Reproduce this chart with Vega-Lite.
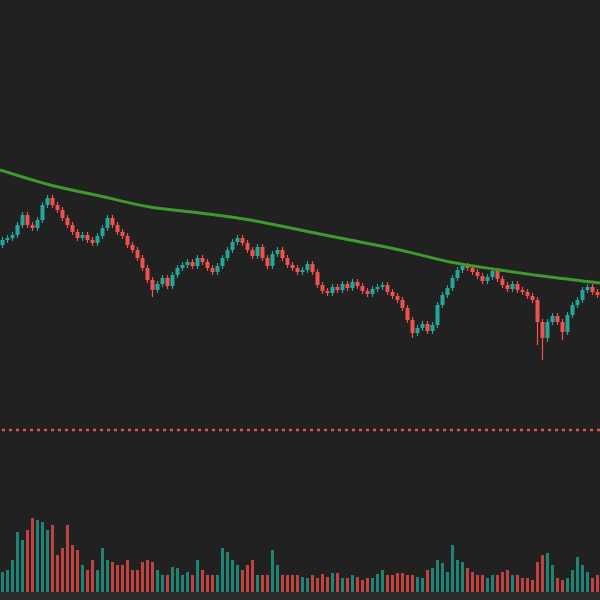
{
  "$schema": "https://vega.github.io/schema/vega-lite/v6.json",
  "width": 600,
  "height": 600,
  "autosize": {"type": "none"},
  "padding": 0,
  "background": "#212121",
  "config": {"view": {"stroke": null}, "axis": {"disable": true}},
  "datasets": {
    "candles": [
      {"t":0,"o":355,"c":360,"h":363,"l":352,"v":20},
      {"t":1,"o":360,"c":362,"h":365,"l":357,"v":22},
      {"t":2,"o":362,"c":365,"h":368,"l":359,"v":32},
      {"t":3,"o":365,"c":375,"h":378,"l":362,"v":60},
      {"t":4,"o":375,"c":385,"h":388,"l":372,"v":52},
      {"t":5,"o":385,"c":375,"h":388,"l":372,"v":62},
      {"t":6,"o":375,"c":372,"h":378,"l":369,"v":74},
      {"t":7,"o":372,"c":380,"h":383,"l":369,"v":72},
      {"t":8,"o":380,"c":395,"h":398,"l":377,"v":70},
      {"t":9,"o":395,"c":402,"h":405,"l":392,"v":62},
      {"t":10,"o":402,"c":395,"h":405,"l":392,"v":67},
      {"t":11,"o":395,"c":390,"h":398,"l":387,"v":37},
      {"t":12,"o":390,"c":382,"h":393,"l":379,"v":44},
      {"t":13,"o":382,"c":375,"h":385,"l":372,"v":67},
      {"t":14,"o":375,"c":368,"h":378,"l":365,"v":47},
      {"t":15,"o":368,"c":362,"h":371,"l":359,"v":42},
      {"t":16,"o":362,"c":365,"h":368,"l":359,"v":27},
      {"t":17,"o":365,"c":360,"h":368,"l":357,"v":22},
      {"t":18,"o":360,"c":357,"h":363,"l":354,"v":32},
      {"t":19,"o":357,"c":364,"h":367,"l":354,"v":22},
      {"t":20,"o":364,"c":372,"h":375,"l":361,"v":44},
      {"t":21,"o":372,"c":382,"h":385,"l":369,"v":32},
      {"t":22,"o":382,"c":375,"h":385,"l":372,"v":30},
      {"t":23,"o":375,"c":368,"h":378,"l":365,"v":27},
      {"t":24,"o":368,"c":364,"h":371,"l":361,"v":27},
      {"t":25,"o":364,"c":355,"h":367,"l":352,"v":32},
      {"t":26,"o":355,"c":350,"h":358,"l":347,"v":22},
      {"t":27,"o":350,"c":342,"h":353,"l":339,"v":22},
      {"t":28,"o":342,"c":332,"h":345,"l":329,"v":30},
      {"t":29,"o":332,"c":320,"h":335,"l":317,"v":32},
      {"t":30,"o":320,"c":310,"h":323,"l":303,"v":30},
      {"t":31,"o":310,"c":316,"h":319,"l":307,"v":22},
      {"t":32,"o":316,"c":322,"h":325,"l":313,"v":17},
      {"t":33,"o":322,"c":314,"h":325,"l":311,"v":17},
      {"t":34,"o":314,"c":325,"h":328,"l":311,"v":25},
      {"t":35,"o":325,"c":332,"h":335,"l":322,"v":24},
      {"t":36,"o":332,"c":335,"h":338,"l":329,"v":17},
      {"t":37,"o":335,"c":338,"h":341,"l":332,"v":20},
      {"t":38,"o":338,"c":334,"h":341,"l":331,"v":17},
      {"t":39,"o":334,"c":342,"h":345,"l":331,"v":32},
      {"t":40,"o":342,"c":338,"h":345,"l":335,"v":22},
      {"t":41,"o":338,"c":332,"h":341,"l":329,"v":17},
      {"t":42,"o":332,"c":328,"h":335,"l":325,"v":17},
      {"t":43,"o":328,"c":334,"h":337,"l":325,"v":17},
      {"t":44,"o":334,"c":342,"h":345,"l":331,"v":44},
      {"t":45,"o":342,"c":350,"h":353,"l":339,"v":40},
      {"t":46,"o":350,"c":358,"h":361,"l":347,"v":32},
      {"t":47,"o":358,"c":362,"h":365,"l":355,"v":27},
      {"t":48,"o":362,"c":357,"h":365,"l":354,"v":22},
      {"t":49,"o":357,"c":350,"h":360,"l":347,"v":27},
      {"t":50,"o":350,"c":344,"h":353,"l":341,"v":32},
      {"t":51,"o":344,"c":353,"h":356,"l":341,"v":17},
      {"t":52,"o":353,"c":342,"h":356,"l":339,"v":17},
      {"t":53,"o":342,"c":334,"h":345,"l":331,"v":17},
      {"t":54,"o":334,"c":346,"h":349,"l":331,"v":42},
      {"t":55,"o":346,"c":350,"h":353,"l":343,"v":27},
      {"t":56,"o":350,"c":342,"h":353,"l":339,"v":17},
      {"t":57,"o":342,"c":335,"h":345,"l":332,"v":17},
      {"t":58,"o":335,"c":332,"h":338,"l":329,"v":17},
      {"t":59,"o":332,"c":328,"h":335,"l":325,"v":17},
      {"t":60,"o":328,"c":330,"h":333,"l":325,"v":15},
      {"t":61,"o":330,"c":336,"h":339,"l":327,"v":14},
      {"t":62,"o":336,"c":328,"h":339,"l":325,"v":17},
      {"t":63,"o":328,"c":315,"h":331,"l":312,"v":14},
      {"t":64,"o":315,"c":309,"h":318,"l":306,"v":18},
      {"t":65,"o":309,"c":307,"h":312,"l":304,"v":15},
      {"t":66,"o":307,"c":313,"h":316,"l":304,"v":19},
      {"t":67,"o":313,"c":310,"h":316,"l":307,"v":19},
      {"t":68,"o":310,"c":316,"h":319,"l":307,"v":14},
      {"t":69,"o":316,"c":312,"h":319,"l":309,"v":14},
      {"t":70,"o":312,"c":318,"h":321,"l":309,"v":17},
      {"t":71,"o":318,"c":314,"h":321,"l":311,"v":15},
      {"t":72,"o":314,"c":309,"h":317,"l":306,"v":12},
      {"t":73,"o":309,"c":306,"h":312,"l":303,"v":14},
      {"t":74,"o":306,"c":311,"h":314,"l":303,"v":14},
      {"t":75,"o":311,"c":313,"h":316,"l":308,"v":18},
      {"t":76,"o":313,"c":315,"h":318,"l":310,"v":22},
      {"t":77,"o":315,"c":308,"h":318,"l":305,"v":17},
      {"t":78,"o":308,"c":304,"h":311,"l":301,"v":17},
      {"t":79,"o":304,"c":300,"h":307,"l":297,"v":19},
      {"t":80,"o":300,"c":292,"h":303,"l":289,"v":19},
      {"t":81,"o":292,"c":280,"h":295,"l":277,"v":17},
      {"t":82,"o":280,"c":267,"h":283,"l":262,"v":17},
      {"t":83,"o":267,"c":272,"h":275,"l":264,"v":15},
      {"t":84,"o":272,"c":276,"h":279,"l":269,"v":14},
      {"t":85,"o":276,"c":269,"h":279,"l":266,"v":22},
      {"t":86,"o":269,"c":275,"h":278,"l":266,"v":24},
      {"t":87,"o":275,"c":295,"h":298,"l":272,"v":32},
      {"t":88,"o":295,"c":305,"h":308,"l":292,"v":29},
      {"t":89,"o":305,"c":312,"h":315,"l":302,"v":20},
      {"t":90,"o":312,"c":322,"h":325,"l":309,"v":47},
      {"t":91,"o":322,"c":330,"h":333,"l":319,"v":32},
      {"t":92,"o":330,"c":334,"h":337,"l":327,"v":30},
      {"t":93,"o":334,"c":332,"h":337,"l":329,"v":24},
      {"t":94,"o":332,"c":328,"h":335,"l":325,"v":20},
      {"t":95,"o":328,"c":324,"h":331,"l":321,"v":17},
      {"t":96,"o":324,"c":319,"h":327,"l":316,"v":17},
      {"t":97,"o":319,"c":323,"h":326,"l":316,"v":14},
      {"t":98,"o":323,"c":329,"h":332,"l":320,"v":17},
      {"t":99,"o":329,"c":321,"h":332,"l":318,"v":17},
      {"t":100,"o":321,"c":315,"h":324,"l":312,"v":20},
      {"t":101,"o":315,"c":311,"h":318,"l":308,"v":22},
      {"t":102,"o":311,"c":316,"h":319,"l":308,"v":17},
      {"t":103,"o":316,"c":310,"h":319,"l":307,"v":17},
      {"t":104,"o":310,"c":308,"h":313,"l":305,"v":14},
      {"t":105,"o":308,"c":304,"h":311,"l":301,"v":14},
      {"t":106,"o":304,"c":300,"h":307,"l":297,"v":12},
      {"t":107,"o":300,"c":278,"h":303,"l":255,"v":30},
      {"t":108,"o":278,"c":262,"h":281,"l":240,"v":37},
      {"t":109,"o":262,"c":278,"h":281,"l":258,"v":39},
      {"t":110,"o":278,"c":284,"h":287,"l":275,"v":27},
      {"t":111,"o":284,"c":278,"h":287,"l":275,"v":14},
      {"t":112,"o":278,"c":268,"h":281,"l":260,"v":12},
      {"t":113,"o":268,"c":285,"h":288,"l":265,"v":14},
      {"t":114,"o":285,"c":295,"h":298,"l":282,"v":22},
      {"t":115,"o":295,"c":300,"h":303,"l":292,"v":35},
      {"t":116,"o":300,"c":310,"h":313,"l":297,"v":27},
      {"t":117,"o":310,"c":313,"h":316,"l":307,"v":20},
      {"t":118,"o":313,"c":308,"h":316,"l":305,"v":14},
      {"t":119,"o":308,"c":305,"h":311,"l":302,"v":17}
    ],
    "ma": [
      {"t":-0.5,"ma":430},
      {"t":9.5,"ma":415},
      {"t":19.5,"ma":404},
      {"t":29.5,"ma":393},
      {"t":39.5,"ma":387},
      {"t":49.5,"ma":380},
      {"t":59.5,"ma":370},
      {"t":69.5,"ma":360},
      {"t":79.5,"ma":350},
      {"t":89.5,"ma":338},
      {"t":99.5,"ma":330},
      {"t":109.5,"ma":323},
      {"t":119.5,"ma":317}
    ],
    "level": [{"p":170}]
  },
  "resolve": {"scale": {"y": "independent"}},
  "layer": [
    {
      "data": {"name": "candles"},
      "mark": {"type": "bar", "size": 3, "opacity": 0.8},
      "encoding": {
        "x": {"field": "t", "type": "quantitative", "scale": {"domain": [-0.5, 119.5], "nice": false, "zero": false, "padding": 0}},
        "y": {"field": "v", "type": "quantitative", "scale": {"domain": [-8, 592], "nice": false}},
        "y2": {"datum": 0},
        "color": {"condition": {"test": "datum.c >= datum.o", "value": "#1f9c8c"}, "value": "#e84c4a"}
      }
    },
    {
      "data": {"values": [{"a": 0}]},
      "mark": {"type": "rect", "color": "#2c2c2c"},
      "encoding": {
        "x": {"datum": -0.5, "type": "quantitative", "scale": {"domain": [-0.5, 119.5], "nice": false, "zero": false, "padding": 0}},
        "x2": {"datum": 119.5},
        "y": {"datum": -8, "type": "quantitative", "scale": {"domain": [-8, 592], "nice": false}},
        "y2": {"datum": 0}
      }
    },
    {
      "data": {"name": "candles"},
      "mark": {"type": "rule", "strokeWidth": 1.2},
      "encoding": {
        "x": {"field": "t", "type": "quantitative", "scale": {"domain": [-0.5, 119.5], "nice": false, "zero": false, "padding": 0}},
        "y": {"field": "l", "type": "quantitative", "scale": {"domain": [0, 600], "nice": false, "zero": false}},
        "y2": {"field": "h"},
        "color": {"condition": {"test": "datum.c >= datum.o", "value": "#26a69a"}, "value": "#ef5350"}
      }
    },
    {
      "data": {"name": "candles"},
      "mark": {"type": "bar", "size": 4},
      "encoding": {
        "x": {"field": "t", "type": "quantitative", "scale": {"domain": [-0.5, 119.5], "nice": false, "zero": false, "padding": 0}},
        "y": {"field": "o", "type": "quantitative", "scale": {"domain": [0, 600], "nice": false, "zero": false}},
        "y2": {"field": "c"},
        "color": {"condition": {"test": "datum.c >= datum.o", "value": "#26a69a"}, "value": "#ef5350"}
      }
    },
    {
      "data": {"name": "ma"},
      "mark": {"type": "line", "color": "#3e9a2c", "strokeWidth": 3, "interpolate": "monotone"},
      "encoding": {
        "x": {"field": "t", "type": "quantitative", "scale": {"domain": [-0.5, 119.5], "nice": false, "zero": false, "padding": 0}},
        "y": {"field": "ma", "type": "quantitative", "scale": {"domain": [0, 600], "nice": false, "zero": false}}
      }
    },
    {
      "data": {"name": "level"},
      "mark": {"type": "rule", "color": "#e0505a", "strokeWidth": 2.5, "strokeDash": [3, 4]},
      "encoding": {
        "y": {"field": "p", "type": "quantitative", "scale": {"domain": [0, 600], "nice": false, "zero": false}}
      }
    }
  ]
}
